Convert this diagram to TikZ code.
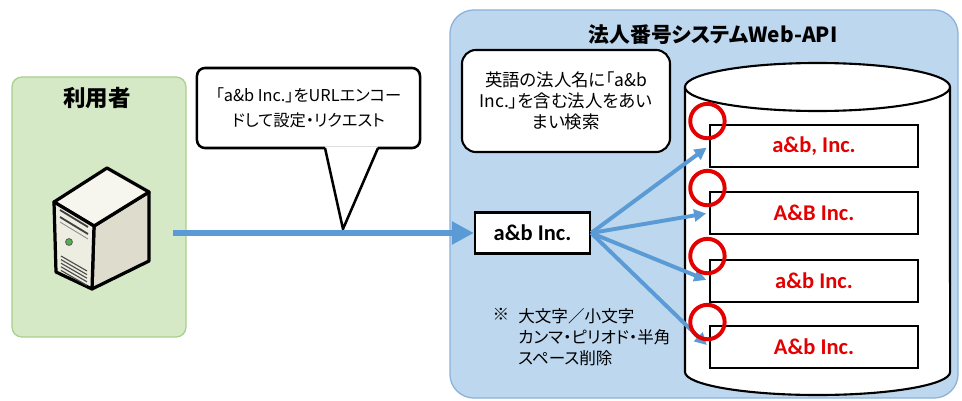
\documentclass[tikz,border=0pt]{standalone}
\usepackage{fontspec}
\setmainfont{Noto Sans CJK JP}[RawFeature={+palt}]
\newfontfamily\latinfont{Carlito}
\usepackage{tikz}
\usetikzlibrary{arrows.meta,positioning,calc}

\definecolor{userfill}{RGB}{214,233,198}
\definecolor{userline}{RGB}{168,208,141}
\definecolor{apifill}{RGB}{189,215,238}
\definecolor{apiline}{RGB}{140,178,218}
\definecolor{flowblue}{RGB}{91,155,213}
\definecolor{hitred}{RGB}{226,0,0}
\definecolor{srvfront}{RGB}{238,237,226}
\definecolor{srvtop}{RGB}{246,245,238}
\definecolor{srvside}{RGB}{222,220,204}

\begin{document}
\begin{tikzpicture}[x=0.025cm,y=-0.025cm,
  panel/.style={rectangle,draw,line width=0.9pt,outer sep=0},
  bubble/.style={rectangle,draw,fill=white,rounded corners=0.2cm,line width=1.8pt,outer sep=0},
  record/.style={rectangle,draw,fill=white,line width=1.6pt,minimum width=5.2cm,minimum height=1.05cm,text=hitred,font=\latinfont\bfseries\fontsize{16}{18}\selectfont},
  flow/.style={flowblue,line width=4.3pt,-{Triangle[length=0.55cm,width=0.55cm]}},
  fan/.style={flowblue,line width=2.8pt,-{Triangle[length=0.3cm,width=0.3cm]},shorten >=2pt},
  hit/.style={hitred,line width=2.8pt}]

\useasboundingbox (0,0) rectangle (962,401);

\node (user) at (99,207) [panel,draw=userline,fill=userfill,rounded corners=0.25cm,minimum width=4.35cm,minimum height=6.5cm] {};
\node (userlabel) at (97,98) {\fontsize{16}{19}\selectfont\bfseries 利用者};

\node (api) at (704,204) [panel,draw=apiline,fill=apifill,rounded corners=0.6cm,minimum width=12.7cm,minimum height=9.7cm] {};
\node (apilabel) at (713,35) {\fontsize{14.8}{17}\selectfont\bfseries 法人番号システムWeb-API};

\filldraw[line width=2.3pt,fill=srvside,line join=round] (94,226) -- (149,192) -- (149,261) -- (92,289) -- cycle;
\filldraw[line width=2.3pt,fill=srvtop,line join=round] (54,202) -- (107,168) -- (149,192) -- (94,226) -- cycle;
\filldraw[line width=2.3pt,fill=srvfront,line join=round] (54,202) -- (94,226) -- (92,289) -- (56,272) -- cycle;
\draw[line width=1.3pt,black!75] (60,210) -- (88,227) (60,217) -- (88,234);
\draw[line width=0.6pt,black!45] (60,222) -- (88,239);
\filldraw[draw=black!60,fill=green!40!gray,line width=0.7pt] (69,242) circle [radius=3.4];
\foreach \k in {0,...,4}
  \draw[line width=0.8pt,black!70] (61,256+3.6*\k) -- (87,271+3.6*\k);
\coordinate (srv) at (173,233);

\node (req) at (308.5,108) [bubble,minimum width=5.575cm,minimum height=2cm,align=center,font=\fontsize{11.6}{18}\selectfont] {「a\&b Inc.」をURLエンコー\\ドして設定・リクエスト};
\coordinate (tip) at (343,229);
\fill[white] ([xshift=0.4125cm,yshift=1.2pt]req.south) -- (tip) -- ([xshift=1.7375cm,yshift=1.2pt]req.south) -- cycle;
\draw[line width=1.8pt,line join=miter] ([xshift=0.4125cm]req.south) -- (tip) -- ([xshift=1.7375cm]req.south);

\node (query) at (532.5,233) [rectangle,draw,fill=white,line width=1.6pt,minimum width=2.875cm,minimum height=1.025cm,font=\latinfont\bfseries\fontsize{16}{18}\selectfont] {a\&b Inc.};

\draw[flow] (srv) -- (query.west);

\node (fuzzy) at (566,101) [bubble,rounded corners=0.35cm,line width=1.5pt,minimum width=5.2cm,minimum height=2.55cm,align=center,font=\fontsize{12.4}{14.8}\selectfont] {英語の法人名に「a\&b\\Inc.」を含む法人をあい\\まい検索};

\filldraw[line width=1.5pt,fill=white] (685,87) -- (685,372) arc[start angle=180,end angle=360,x radius=3.3125cm,y radius=0.575cm] -- (950,87);
\filldraw[line width=1.5pt,fill=white] (817.5,87) ellipse [x radius=3.3125cm,y radius=0.6cm];

\foreach \name/\ypos/\txt in {rec1/146/{a\&b, Inc.},rec2/213/{A\&B Inc.},rec3/281/{a\&b Inc.},rec4/347/{A\&b Inc.}}
  \node (\name) at (814,\ypos) [record] {\txt};

\foreach \name in {rec1,rec2,rec3,rec4}
  \draw[fan] (query.east) -- (\name.west);

\foreach \name in {rec1,rec2,rec3,rec4}
  \draw[hit] ([xshift=-1pt,yshift=2pt]\name.north west) circle [radius=0.43cm];

\node (rule) at (518,308) [anchor=north west,align=left,inner sep=0,font=\fontsize{11.8}{15}\selectfont] {大文字／小文字\\カンマ・ピリオド・半角\\スペース削除};
\node (mark) at (rule.north west) [anchor=north east,inner sep=0,xshift=-6pt,font=\fontsize{11.8}{15}\selectfont] {※};

\end{tikzpicture}
\end{document}
